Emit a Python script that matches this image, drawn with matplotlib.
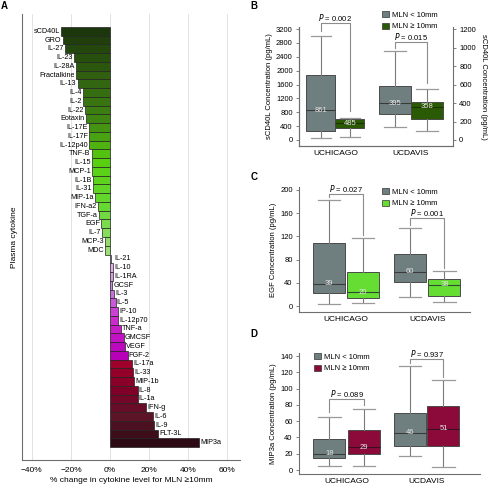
import numpy as np
import matplotlib
matplotlib.use("Agg")
import matplotlib.pyplot as plt
from matplotlib.patches import Patch
from matplotlib.colors import LinearSegmentedColormap

plt.rcParams['font.family'] = ['Liberation Sans', 'DejaVu Sans']

# ---- panel A data: % change in cytokine level for MLN >= 10mm
cytokines = ['sCD40L', 'GRO', 'IL-27', 'IL-23', 'IL-28A', 'Fractalkine', 'IL-13', 'IL-4',
             'IL-2', 'IL-22', 'Eotaxin', 'IL-17E', 'IL-17F', 'IL-12p40', 'TNF-B', 'IL-15',
             'MCP-1', 'IL-1B', 'IL-31', 'MIP-1a', 'IFN-a2', 'TGF-a', 'EGF', 'IL-7', 'MCP-3',
             'MDC',
             'IL-21', 'IL-10', 'IL-1RA', 'GCSF', 'IL-3', 'IL-5', 'IP-10', 'IL-12p70', 'TNF-a',
             'GMCSF', 'VEGF', 'FGF-2',
             'IL-17a', 'IL-33', 'MIP-1b', 'IL-8', 'IL-1a', 'IFN-g', 'IL-6', 'IL-9', 'FLT-3L',
             'MIP3a']
pct_change = [-24.9, -24.2, -22.9, -18.6, -17.6, -17.4, -16.6, -13.6,
              -13.6, -12.7, -12.2, -10.8, -10.7, -10.7, -9.3, -9.3,
              -9.3, -8.5, -8.5, -7.6, -6.3, -5.8, -4.4, -4.2, -2.4,
              -2.4,
              0.3, 1.4, 1.4, 1.2, 2.0, 2.9, 4.2, 4.2, 5.4,
              7.1, 7.8, 9.0,
              11.4, 11.9, 12.2, 14.1, 14.1, 18.3, 22.0, 22.4, 24.7,
              45.4]

groups = ['UCHICAGO', 'UCDAVIS']
legend_labels = ['MLN < 10mm', 'MLN \u2265 10mm']

# ---- panel B: sCD40L (UCHICAGO on left axis, UCDAVIS on right axis)
b_lo = [[60, 90], [137, 101]]
b_q1 = [[270, 360], [281, 227]]
b_med = [[861, 485], [395, 358]]
b_q3 = [[1880, 615], [587, 411]]
b_hi = [[3000, 640], [966, 551]]
b_p = ['0.002', '0.015']

# ---- panel C: EGF
c_lo = [[4, 5], [15, 7.5]]
c_q1 = [[23, 13], [41, 17]]
c_med = [[38, 24], [59, 37]]
c_q3 = [[109, 59], [89, 47]]
c_hi = [[183, 117], [135, 60]]
c_txt = [['39', '20'], ['60', '38']]
c_p = ['0.027', '0.001']

# ---- panel D: MIP3a
d_lo = [[5.3, 5.3], [16.8, 3.7]]
d_q1 = [[15, 20], [29, 29.5]]
d_med = [[20, 28], [45.6, 50.5]]
d_q3 = [[38.6, 49], [70, 78]]
d_hi = [[64.5, 75], [127.7, 111]]
d_txt = [['18', '29'], ['46', '51']]
d_p = ['0.089', '0.937']

W, H = 489, 487
fig = plt.figure(figsize=(W / 100, H / 100), dpi=100)


def ax_px(x0, y0, x1, y1):
    # axes from pixel box (top-left origin)
    return fig.add_axes([x0 / W, 1 - y1 / H, (x1 - x0) / W, (y1 - y0) / H])


SPINE = '#6e6e6e'
GRAY = '#6f7f80'
FS = 5.5

# ================= panel A
axA = ax_px(22, 14, 240, 460)
g_cmap = LinearSegmentedColormap.from_list('g', ['#1c370b', '#2f5f0f', '#3f8512', '#58d010', '#66d832', '#9ae072'])
m_cmap = LinearSegmentedColormap.from_list('m', ['#e8c4f2', '#c878e0', '#cc22cc', '#b800b8'])
r_cmap = LinearSegmentedColormap.from_list('r', ['#a0002c', '#7e0028', '#5c1426', '#2e0a14'])
bar_colors = [g_cmap(i / 25) for i in range(26)] + \
             [m_cmap(i / 11) for i in range(12)] + \
             [r_cmap(i / 9) for i in range(10)]
ypos = np.arange(len(cytokines))
axA.barh(ypos, pct_change, height=1.0, color=bar_colors, edgecolor='#222222', linewidth=0.5, zorder=3)
for y, v, name in zip(ypos, pct_change, cytokines):
    if v < 0:
        axA.text(v - 0.6, y, name, ha='right', va='center', fontsize=5.2, zorder=4)
    else:
        axA.text(max(v, 1.5) + 0.6, y, name, ha='left', va='center', fontsize=5.2, zorder=4)
axA.set_ylim(len(cytokines) - 1 + 1.98, -1.98)
axA.set_xlim(-45, 66.5)
axA.set_xticks([-40, -20, 0, 20, 40, 60])
axA.set_xticklabels(['\u221240%', '\u221220%', '0%', '20%', '40%', '60%'], fontsize=6)
axA.set_yticks([])
axA.tick_params(axis='x', length=0, pad=5)
axA.grid(axis='x', color='#dddddd', linewidth=0.6, zorder=0)
for s in ['top', 'right']:
    axA.spines[s].set_visible(False)
for s in ['left', 'bottom']:
    axA.spines[s].set_color(SPINE)
    axA.spines[s].set_linewidth(0.8)
axA.set_xlabel('% change in cytokine level for MLN \u226510mm', fontsize=6, labelpad=2)
axA.set_ylabel('Plasma cytokine', fontsize=6, labelpad=3)


def style_box_axes(ax):
    for s in ['top', 'right']:
        ax.spines[s].set_visible(False)
    for s in ['left', 'bottom', 'right']:
        ax.spines[s].set_color(SPINE)
        ax.spines[s].set_linewidth(0.8)
    ax.tick_params(axis='y', labelsize=FS, length=2.5, width=0.6, color=SPINE, pad=2)
    ax.tick_params(axis='x', length=0, labelsize=6, pad=3)


def draw_box(ax, pos, width, lo, q1, med, q3, hi, face, medc, txt=None):
    stats = [dict(whislo=lo, q1=q1, med=med, q3=q3, whishi=hi, fliers=[])]
    ax.bxp(stats, positions=[pos], widths=width, patch_artist=True, showfliers=False,
           boxprops=dict(facecolor=face, edgecolor='#4a4a4a', linewidth=0.7),
           medianprops=dict(color=medc, linewidth=0.8),
           whiskerprops=dict(color='#7a7a7a', linewidth=0.8),
           capprops=dict(color='#9a9a9a', linewidth=0.9),
           capwidths=width * 0.7, manage_ticks=False)
    if txt is not None:
        ax.text(pos, med, txt, ha='center', va='center', color='#e6e6e6', fontsize=FS)


def bracket(ax, x0, x1, ytop, yl, yr, p):
    ax.plot([x0, x0, x1, x1], [yl, ytop, ytop, yr], color='#8c8c8c', linewidth=0.8, clip_on=False)
    ax.text((x0 + x1) / 2, ytop, r'$\it{P}$ = ' + p, ha='center', va='bottom', fontsize=FS,
            clip_on=False)


def add_legend(ax, colors, x, y):
    handles = [Patch(facecolor=c, edgecolor='#333333', linewidth=0.5, label=l)
               for c, l in zip(colors, legend_labels)]
    fig.legend(handles=handles, loc='upper left', bbox_to_anchor=(x / W, 1 - y / H),
               frameon=False, fontsize=FS, handlelength=0.9, handleheight=0.9,
               handletextpad=0.4, labelspacing=0.5, borderaxespad=0, borderpad=0)


# ================= panel B
GREEN_B = '#2b5a05'
axB = ax_px(299, 27, 453, 146)
axB.set_xlim(0, 154)
axB.set_ylim(-173, 3258)
axB2 = axB.twinx()
axB2.set_ylim(-173 * 1200 / 3200, 3258 * 1200 / 3200)
style_box_axes(axB)
style_box_axes(axB2)
axB2.spines['right'].set_visible(True)
axB.set_yticks(np.arange(0, 3201, 400))
axB2.set_yticks(np.arange(0, 1201, 200))
b_pos = [[22, 51], [96, 128]]
draw_box(axB, b_pos[0][0], 29, b_lo[0][0], b_q1[0][0], b_med[0][0], b_q3[0][0], b_hi[0][0], GRAY, '#3a3a3a', str(b_med[0][0]))
draw_box(axB, b_pos[0][1], 29, b_lo[0][1], b_q1[0][1], b_med[0][1], b_q3[0][1], b_hi[0][1], GREEN_B, '#1a3300', str(b_med[0][1]))
draw_box(axB2, b_pos[1][0], 32, b_lo[1][0], b_q1[1][0], b_med[1][0], b_q3[1][0], b_hi[1][0], GRAY, '#3a3a3a', str(b_med[1][0]))
draw_box(axB2, b_pos[1][1], 32, b_lo[1][1], b_q1[1][1], b_med[1][1], b_q3[1][1], b_hi[1][1], GREEN_B, '#1a3300', str(b_med[1][1]))
axB.set_xticks([np.mean(b_pos[0]), np.mean(b_pos[1])])
axB.set_xticklabels(groups)
axB.set_ylabel('sCD40L Concentration (pg/mL)', fontsize=FS, labelpad=2)
axB2.set_ylabel('sCD40L Concentration (pg/mL)', fontsize=FS, rotation=270, labelpad=8)
bracket(axB, b_pos[0][0], b_pos[0][1], 3380, 3150, 850, b_p[0])
bracket(axB2, b_pos[1][0], b_pos[1][1], 1055, 995, 616, b_p[1])
add_legend(axB, [GRAY, GREEN_B], 382, 11)

# ================= panel C
GREEN_C = '#66dd33'
axC = ax_px(299, 187, 470, 312)
axC.set_xlim(0, 171)
axC.set_ylim(-10.3, 205)
style_box_axes(axC)
axC.set_yticks(np.arange(0, 201, 40))
c_pos = [[30, 64], [111, 145.5]]
for g in range(2):
    for k, face in enumerate([GRAY, GREEN_C]):
        draw_box(axC, c_pos[g][k], 32, c_lo[g][k], c_q1[g][k], c_med[g][k], c_q3[g][k], c_hi[g][k],
                 face, '#2f4a2f' if k else '#3a3a3a', c_txt[g][k])
axC.set_xticks([np.mean(c_pos[0]), np.mean(c_pos[1])])
axC.set_xticklabels(groups)
axC.set_ylabel('EGF Concentration (pg/mL)', fontsize=FS, labelpad=2)
bracket(axC, c_pos[0][0], c_pos[0][1], 193, 188, 123, c_p[0])
bracket(axC, c_pos[1][0], c_pos[1][1], 151, 140, 66, c_p[1])
add_legend(axC, [GRAY, GREEN_C], 382, 188)

# ================= panel D
RED_D = '#8c0a3a'
axD = ax_px(299, 353, 480, 474)
axD.set_xlim(0, 181)
axD.set_ylim(-4.9, 143.7)
style_box_axes(axD)
axD.set_yticks(np.arange(0, 141, 20))
d_pos = [[30.5, 65], [111, 144.5]]
for g in range(2):
    for k, face in enumerate([GRAY, RED_D]):
        draw_box(axD, d_pos[g][k], 32, d_lo[g][k], d_q1[g][k], d_med[g][k], d_q3[g][k], d_hi[g][k],
                 face, '#3a1020' if k else '#3a3a3a', d_txt[g][k])
axD.set_xticks([np.mean(d_pos[0]), np.mean(d_pos[1])])
axD.set_xticklabels(groups)
axD.set_ylabel('MIP3a Concentration (pg/mL)', fontsize=FS, labelpad=2)
bracket(axD, d_pos[0][0], d_pos[0][1], 87, 71, 80, d_p[0])
bracket(axD, d_pos[1][0], d_pos[1][1], 136, 131, 114, d_p[1])
add_legend(axD, [GRAY, RED_D], 314, 353)

# panel letters
for lab, x, y in [('A', 4, 6), ('B', 254, 6), ('C', 254, 177), ('D', 254, 334)]:
    fig.text(x / W, 1 - y / H, lab, fontsize=7, fontweight='bold', ha='center', va='center')

fig.savefig('out.png', dpi=100)
